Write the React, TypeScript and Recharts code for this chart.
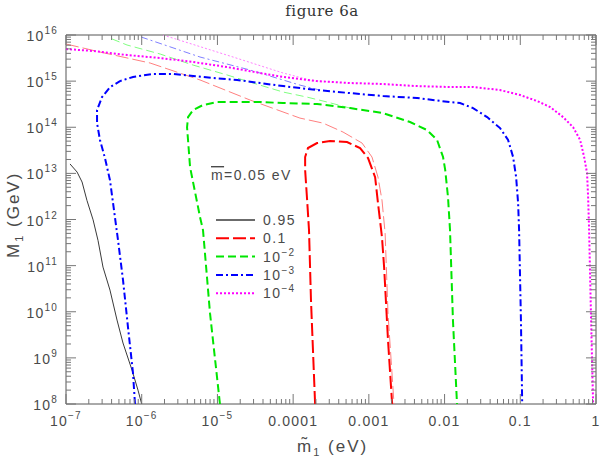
import { LineChart, Line, XAxis, YAxis, Legend, ReferenceArea } from 'recharts'

type Pt = { x: number; y: number }

// chart box and plot frame (px)
const W = 610
const H = 464
const LEFT = 66
const RIGHT = 596
const TOP = 35
const BOTTOM = 404

const INK = '#4a4a4a'
const TICK = '#777'
const SANS = '"Liberation Sans", Arial, sans-serif'

// m1 = 0.95 (only one curve)
const curve095: Pt[] = [
  { x: 1.13e-7, y: 1.6e13 }, { x: 1.4e-7, y: 1.07e13 }, { x: 1.63e-7, y: 6.5e12 },
  { x: 1.89e-7, y: 2.6e12 }, { x: 2.28e-7, y: 9.8e11 }, { x: 2.65e-7, y: 3.5e11 },
  { x: 3.08e-7, y: 9.3e10 }, { x: 3.81e-7, y: 2.95e10 }, { x: 4.72e-7, y: 6.6e9 },
  { x: 5.66e-7, y: 2.1e9 }, { x: 7.45e-7, y: 5.4e8 }, { x: 8.93e-7, y: 2.0e8 },
  { x: 1.0e-6, y: 1.0e8 },
]

// 0.1
const curve01: Pt[] = [
  { x: 1.95e-4, y: 1e8 }, { x: 1.72e-4, y: 1.79e10 }, { x: 1.62e-4, y: 5.9e11 },
  { x: 1.53e-4, y: 2.64e12 }, { x: 1.44e-4, y: 1.18e13 }, { x: 1.44e-4, y: 2.26e13 },
  { x: 1.57e-4, y: 3.54e13 }, { x: 2.07e-4, y: 4.54e13 }, { x: 3.07e-4, y: 5.02e13 },
  { x: 5.15e-4, y: 4.78e13 }, { x: 7.65e-4, y: 3.54e13 }, { x: 9.76e-4, y: 2.15e13 },
  { x: 1.21e-3, y: 8.3e12 }, { x: 1.32e-3, y: 2.27e12 }, { x: 1.49e-3, y: 4.15e11 },
  { x: 1.59e-3, y: 9.3e10 }, { x: 1.79e-3, y: 2.42e9 }, { x: 2.03e-3, y: 1e8 },
]
const curve01Thin: Pt[] = [
  { x: 1e-7, y: 6.38e15 }, { x: 2.81e-7, y: 4.28e15 }, { x: 1.29e-6, y: 2.47e15 },
  { x: 5.89e-6, y: 1.06e15 }, { x: 2.7e-5, y: 3.89e14 }, { x: 1.23e-4, y: 1.58e14 },
  { x: 2.48e-4, y: 1.23e14 }, { x: 4.56e-4, y: 7.87e13 }, { x: 8.13e-4, y: 4.54e13 },
  { x: 1.1e-3, y: 2.26e13 }, { x: 1.32e-3, y: 8.3e12 }, { x: 1.49e-3, y: 2.64e12 },
  { x: 1.64e-3, y: 5.07e11 }, { x: 1.79e-3, y: 9.3e9 }, { x: 2.15e-3, y: 1e8 },
]

// 1e-2
const curve1e2: Pt[] = [
  { x: 1.08e-5, y: 1e8 }, { x: 7.98e-6, y: 9.3e9 }, { x: 6.45e-6, y: 5.9e11 },
  { x: 5.89e-6, y: 1.13e12 }, { x: 4.35e-6, y: 1.37e13 }, { x: 4.09e-6, y: 5.3e13 },
  { x: 3.97e-6, y: 1.0e14 }, { x: 4.09e-6, y: 1.66e14 }, { x: 4.76e-6, y: 2.36e14 },
  { x: 6.45e-6, y: 3.03e14 }, { x: 9.89e-6, y: 3.52e14 }, { x: 1.61e-5, y: 3.52e14 },
  { x: 3.66e-5, y: 3.52e14 }, { x: 7.36e-5, y: 3.35e14 }, { x: 2.07e-4, y: 3.19e14 },
  { x: 5.65e-4, y: 2.6e14 }, { x: 1.54e-3, y: 2.03e14 }, { x: 3.5e-3, y: 1.3e14 },
  { x: 5.87e-3, y: 8.7e13 }, { x: 7.96e-3, y: 5.3e13 }, { x: 9.55e-3, y: 2.26e13 },
  { x: 1.02e-2, y: 1.18e13 }, { x: 1.11e-2, y: 3.06e12 }, { x: 1.18e-2, y: 5.9e11 },
  { x: 1.29e-2, y: 6.6e9 }, { x: 1.46e-2, y: 1e8 },
]
const curve1e2Thin: Pt[] = [
  { x: 4.06e-7, y: 8.2e15 }, { x: 6.4e-7, y: 6.07e15 }, { x: 1.75e-6, y: 3.87e15 },
  { x: 4.76e-6, y: 2.23e15 }, { x: 1.34e-5, y: 1.36e15 }, { x: 2.95e-5, y: 9.1e14 },
  { x: 7.36e-5, y: 5.8e14 }, { x: 1.53e-4, y: 4.5e14 }, { x: 2.81e-4, y: 3.52e14 },
  { x: 5.65e-4, y: 2.6e14 },
]

// 1e-3
const curve1e3: Pt[] = [
  { x: 8.15e-7, y: 1e8 }, { x: 7.67e-7, y: 4.7e8 }, { x: 6.59e-7, y: 4.6e9 },
  { x: 5.66e-7, y: 4.9e10 }, { x: 4.86e-7, y: 3.6e11 }, { x: 3.81e-7, y: 7.1e12 },
  { x: 3.27e-7, y: 2.15e13 }, { x: 2.81e-7, y: 5.3e13 }, { x: 2.57e-7, y: 1.23e14 },
  { x: 2.57e-7, y: 2.36e14 }, { x: 2.99e-7, y: 4.5e14 }, { x: 3.81e-7, y: 7.4e14 },
  { x: 5.16e-7, y: 1.0e15 }, { x: 7.67e-7, y: 1.23e15 }, { x: 1.41e-6, y: 1.43e15 },
  { x: 2.59e-6, y: 1.43e15 }, { x: 4.76e-6, y: 1.29e15 }, { x: 8.75e-6, y: 1.17e15 },
  { x: 1.82e-5, y: 1.06e15 }, { x: 3.66e-5, y: 9.1e14 }, { x: 7.36e-5, y: 7.8e14 },
  { x: 2.07e-4, y: 6.4e14 }, { x: 5.65e-4, y: 5.5e14 }, { x: 1.54e-3, y: 4.75e14 },
  { x: 4.34e-3, y: 4.3e14 }, { x: 1.18e-2, y: 3.5e14 }, { x: 1.6e-2, y: 3.35e14 },
  { x: 2.38e-2, y: 2.6e14 }, { x: 3.65e-2, y: 1.66e14 }, { x: 5.41e-2, y: 9.6e13 },
  { x: 6.9e-2, y: 5.3e13 }, { x: 8.04e-2, y: 2.26e13 }, { x: 8.81e-2, y: 8.3e12 },
  { x: 9.36e-2, y: 2.27e12 }, { x: 9.64e-2, y: 5.9e11 }, { x: 0.102, y: 6.6e9 },
  { x: 0.106, y: 1e8 },
]
const curve1e3Thin: Pt[] = [
  { x: 9.8e-7, y: 9.06e15 }, { x: 5.89e-6, y: 3.33e15 }, { x: 2.7e-5, y: 1.74e15 },
  { x: 1.23e-4, y: 8.2e14 }, { x: 2.26e-4, y: 6.4e14 },
]

// 1e-4
const curve1e4: Pt[] = [
  { x: 1e-7, y: 4.97e15 }, { x: 2.28e-7, y: 4.5e15 }, { x: 6.4e-7, y: 3.68e15 },
  { x: 1.75e-6, y: 3.17e15 }, { x: 4.76e-6, y: 2.6e15 }, { x: 1.34e-5, y: 2.02e15 },
  { x: 3.66e-5, y: 1.5e15 }, { x: 7.36e-5, y: 1.23e15 }, { x: 2.07e-4, y: 1.0e15 },
  { x: 5.65e-4, y: 9.1e14 }, { x: 1.54e-3, y: 8.65e14 }, { x: 4.34e-3, y: 7.8e14 },
  { x: 1.18e-2, y: 7.45e14 }, { x: 2.38e-2, y: 7.45e14 }, { x: 5.41e-2, y: 6.4e14 },
  { x: 9.93e-2, y: 5.0e14 }, { x: 0.167, y: 3.7e14 }, { x: 0.248, y: 2.74e14 },
  { x: 0.368, y: 1.66e14 }, { x: 0.499, y: 1.0e14 }, { x: 0.617, y: 5.3e13 },
  { x: 0.697, y: 2.26e13 }, { x: 0.762, y: 1.01e13 }, { x: 0.787, y: 3.06e12 },
  { x: 0.811, y: 5.9e11 }, { x: 0.861, y: 6.6e9 }, { x: 0.916, y: 1e8 },
]
const curve1e4Thin: Pt[] = [
  { x: 1.91e-6, y: 1e16 }, { x: 1.61e-5, y: 3.33e15 }, { x: 7.36e-5, y: 1.5e15 },
  { x: 1.67e-4, y: 1.06e15 }, { x: 3.07e-4, y: 9.6e14 },
]

const xMajor = [1e-7, 1e-6, 1e-5, 1e-4, 1e-3, 1e-2, 1e-1, 1]
const xTickLabels: [string, string][] = [
  ['10', '−7'], ['10', '−6'], ['10', '−5'], ['0.0001', ''], ['0.001', ''], ['0.01', ''], ['0.1', ''], ['1', ''],
]
const yMajor = [1e8, 1e9, 1e10, 1e11, 1e12, 1e13, 1e14, 1e15, 1e16]
const yTickLabels = ['8', '9', '10', '11', '12', '13', '14', '15', '16']

const legendLabels: [string, string][] = [['0.95', ''], ['0.1', ''], ['10', '−2'], ['10', '−3'], ['10', '−4']]

const STYLES = [
  { color: '#3a3a3a', dash: undefined as string | undefined },
  { color: '#ff0000', dash: '13 4' },
  { color: '#00e600', dash: '8 4' },
  { color: '#0000ff', dash: '7 3 2 3' },
  { color: '#ff00ff', dash: '2 2' },
]
const THIN = ['#3a3a3a', '#ff8080', '#80ff80', '#8080ff', '#ff80ff']

// log minor ticks 2..9 in every decade
function withMinors(majors: number[]) {
  const out: number[] = []
  majors.forEach((m, i) => {
    out.push(m)
    if (i < majors.length - 1) for (let k = 2; k <= 9; k++) out.push(m * k)
  })
  return out
}

const majorIndex = (majors: number[], v: number) =>
  majors.findIndex((m) => Math.abs(Math.log10(m) - Math.log10(v)) < 1e-6)

function XTick(props: any) {
  const { x, payload } = props
  const i = majorIndex(xMajor, payload.value)
  const len = i >= 0 ? 10 : 5
  return (
    <g>
      <line x1={x} x2={x} y1={BOTTOM} y2={BOTTOM - len} stroke={TICK} />
      <line x1={x} x2={x} y1={TOP} y2={TOP + len} stroke={TICK} />
      {i >= 0 && (
        <text x={x} y={426} textAnchor="middle" fontFamily={SANS} fontSize={14} fill={INK} letterSpacing={1.2}>
          {xTickLabels[i][0]}
          {xTickLabels[i][1] && <tspan dy={-7} fontSize={10}>{xTickLabels[i][1]}</tspan>}
        </text>
      )}
    </g>
  )
}

function YTick(props: any) {
  const { y, payload } = props
  const i = majorIndex(yMajor, payload.value)
  const len = i >= 0 ? 10 : 5
  return (
    <g>
      <line x1={LEFT} x2={LEFT + len} y1={y} y2={y} stroke={TICK} />
      <line x1={RIGHT} x2={RIGHT - len} y1={y} y2={y} stroke={TICK} />
      {i >= 0 && (
        <text x={58} y={y + 6} textAnchor="end" fontFamily={SANS} fontSize={14} fill={INK} letterSpacing={1.2}>
          10
          <tspan dy={-7} fontSize={10}>{yTickLabels[i]}</tspan>
        </text>
      )}
    </g>
  )
}

function LegendBox() {
  return (
    <svg width={140} height={150} style={{ overflow: 'visible' }}>
      <text x={11} y={20} fontFamily={SANS} fontSize={14} fill={INK} letterSpacing={1.4}>
        <tspan textDecoration="overline">m</tspan>=0.05 eV
      </text>
      {legendLabels.map((lab, i) => {
        const y = 60 + i * 18.3
        return (
          <g key={i}>
            <line x1={16} x2={55} y1={y} y2={y} stroke={STYLES[i].color} strokeWidth={i === 0 ? 1.5 : 2} strokeDasharray={STYLES[i].dash} />
            <text x={63} y={y + 5} fontFamily={SANS} fontSize={14} fill={INK} letterSpacing={1.4}>
              {lab[0]}
              {lab[1] && <tspan dy={-6} fontSize={10}>{lab[1]}</tspan>}
            </text>
          </g>
        )
      })}
    </svg>
  )
}

const XLabel = () => (
  <text x={297} y={452} fontFamily={SANS} fontSize={17} fill={INK} letterSpacing={2}>
    m̃<tspan dy={4} fontSize={11}>1</tspan>
    <tspan dy={-4}>{'  (eV)'}</tspan>
  </text>
)

const YLabel = () => (
  <text x={0} y={0} transform="translate(19 258) rotate(-90)" fontFamily={SANS} fontSize={17} fill={INK} letterSpacing={2}>
    M<tspan dy={4} fontSize={11}>1</tspan>
    <tspan dy={-4}>{'  (GeV)'}</tspan>
  </text>
)

const thinSeries = [curve01Thin, curve1e2Thin, curve1e3Thin, curve1e4Thin]
const thickSeries = [curve01, curve1e2, curve1e3, curve1e4]

export default function App() {
  return (
    <div style={{ position: 'absolute', left: 0, top: 0, width: W, height: H, background: '#fff' }}>
      <div style={{ position: 'absolute', left: 0, width: W, top: 2, textAlign: 'center', paddingLeft: 34, boxSizing: 'border-box', fontFamily: '"DejaVu Serif", serif', fontSize: 15, letterSpacing: 0.5, color: '#333', zIndex: 2 }}>
        figure 6a
      </div>
      <LineChart width={W} height={H} margin={{ top: TOP, right: W - RIGHT, bottom: 0, left: 0 }}>
        <XAxis
          dataKey="x"
          type="number"
          scale="log"
          domain={[1e-7, 1]}
          allowDataOverflow
          ticks={withMinors(xMajor)}
          interval={0}
          tick={(p: any) => <XTick {...p} />}
          tickLine={false}
          axisLine={false}
          height={H - BOTTOM}
          label={<XLabel />}
        />
        <YAxis
          type="number"
          scale="log"
          domain={[1e8, 1e16]}
          allowDataOverflow
          ticks={withMinors(yMajor)}
          interval={0}
          tick={(p: any) => <YTick {...p} />}
          tickLine={false}
          axisLine={false}
          width={LEFT}
          label={<YLabel />}
        />
        <ReferenceArea x1={1e-7} x2={1} y1={1e8} y2={1e16} fill="none" stroke="#555" strokeWidth={1} fillOpacity={0} />
        {thinSeries.map((d, i) => (
          <Line
            key={'t' + i}
            data={d}
            dataKey="y"
            type="linear"
            stroke={THIN[i + 1]}
            strokeWidth={1}
            strokeDasharray={STYLES[i + 1].dash}
            dot={false}
            legendType="none"
            isAnimationActive={false}
          />
        ))}
        <Line data={curve095} dataKey="y" type="linear" stroke={STYLES[0].color} strokeWidth={1} dot={false} isAnimationActive={false} />
        {thickSeries.map((d, i) => (
          <Line
            key={'k' + i}
            data={d}
            dataKey="y"
            type="linear"
            stroke={STYLES[i + 1].color}
            strokeWidth={2}
            strokeDasharray={STYLES[i + 1].dash}
            dot={false}
            isAnimationActive={false}
          />
        ))}
        <Legend
          layout="horizontal"
          verticalAlign="middle"
          align="center"
          content={() => <LegendBox />}
          wrapperStyle={{ left: 200, top: 160, width: 140, height: 150 }}
        />
      </LineChart>
    </div>
  )
}
